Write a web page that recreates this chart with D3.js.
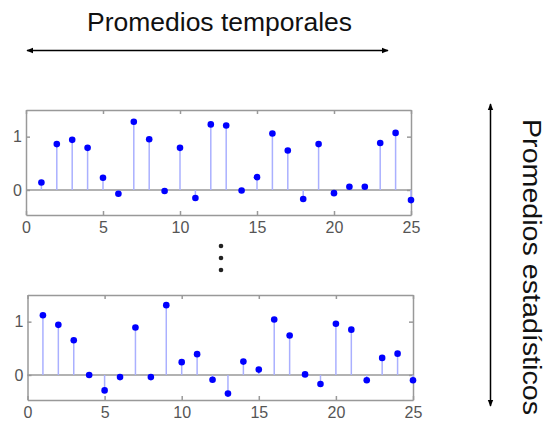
<!DOCTYPE html>
<html>
<head>
<meta charset="utf-8">
<script src="https://cdn.jsdelivr.net/npm/d3@7"></script>
<style>
  body { margin: 0; background: #fff; }
  svg { font-family: "Liberation Sans", Arial, sans-serif; }
  .axis path, .axis line { stroke: #999; stroke-width: 1.5; }
  .axis text { fill: #555; font-size: 16px; }
</style>
</head>
<body>
<script>
var w = 552, h = 422;

// sample index n = 1..25
var n = d3.range(1, 26);
// realization shown in the top panel
var seriesTop = [0.14, 0.86, 0.94, 0.79, 0.23, -0.07, 1.28, 0.95, -0.02, 0.79,
                 -0.15, 1.23, 1.21, -0.01, 0.24, 1.06, 0.74, -0.17, 0.86, -0.06,
                 0.06, 0.06, 0.88, 1.07, -0.19];
// realization shown in the bottom panel
var seriesBottom = [1.12, 0.94, 0.65, 0.0, -0.29, -0.04, 0.89, -0.04, 1.31, 0.24,
                    0.39, -0.09, -0.35, 0.25, 0.10, 1.04, 0.74, 0.01, -0.17, 0.96,
                    0.85, -0.10, 0.32, 0.40, -0.10];
var xTicks = [0, 5, 10, 15, 20, 25];
var yTicks = [0, 1];
var titleTop = "Promedios temporales";
var titleSide = "Promedios estadísticos";

var svg = d3.select("body").append("svg")
    .attr("width", w)
    .attr("height", h);

var defs = svg.append("defs");
defs.append("marker")
    .attr("id", "head")
    .attr("viewBox", "0 0 10 10")
    .attr("refX", 9).attr("refY", 5)
    .attr("markerWidth", 7).attr("markerHeight", 7)
    .attr("markerUnits", "userSpaceOnUse")
    .attr("orient", "auto-start-reverse")
  .append("path")
    .attr("d", "M0,1 L10,5 L0,9 Z")
    .attr("fill", "#000");

function stemPlot(values, left, right, top, bottom) {
  var x = d3.scaleLinear().domain([0, 25]).range([left, right]);
  var y = d3.scaleLinear().domain([-0.47, 1.5]).range([bottom, top]);
  var g = svg.append("g");

  // box with inward ticks
  g.append("g").attr("class", "axis")
    .attr("transform", "translate(0," + bottom + ")")
    .call(d3.axisBottom(x).tickValues(xTicks).tickSizeInner(-4).tickSizeOuter(0).tickPadding(7));
  g.append("g").attr("class", "axis")
    .attr("transform", "translate(0," + top + ")")
    .call(d3.axisTop(x).tickValues(xTicks).tickSizeInner(-4).tickSizeOuter(0).tickFormat(""));
  g.append("g").attr("class", "axis")
    .attr("transform", "translate(" + left + ",0)")
    .call(d3.axisLeft(y).tickValues(yTicks).tickSizeInner(-4).tickSizeOuter(0)
      .tickPadding(4).tickFormat(d3.format("d")));
  g.append("g").attr("class", "axis")
    .attr("transform", "translate(" + right + ",0)")
    .call(d3.axisRight(y).tickValues(yTicks).tickSizeInner(-4).tickSizeOuter(0).tickFormat(""));
  g.selectAll(".axis .domain").attr("stroke", "#999").attr("stroke-width", 2);

  // baseline
  g.append("line")
    .attr("x1", left).attr("x2", right)
    .attr("y1", y(0)).attr("y2", y(0))
    .attr("stroke", "#999").attr("stroke-width", 1.5);

  g.selectAll(".stem").data(values).enter().append("line")
    .attr("class", "stem")
    .attr("x1", function(d, i) { return x(n[i]); })
    .attr("x2", function(d, i) { return x(n[i]); })
    .attr("y1", y(0))
    .attr("y2", function(d) { return y(d); })
    .attr("stroke", "#aab0ff").attr("stroke-width", 1.5);

  g.selectAll(".pt").data(values).enter().append("circle")
    .attr("class", "pt")
    .attr("cx", function(d, i) { return x(n[i]); })
    .attr("cy", function(d) { return y(d); })
    .attr("r", 3.3)
    .attr("fill", "#0000ff");
}

stemPlot(seriesTop, 26, 411, 110, 215);
stemPlot(seriesBottom, 27.5, 413, 295, 400);

// vertical ellipsis
svg.selectAll(".dot").data([246, 258, 270]).enter().append("circle")
  .attr("cx", 221).attr("cy", function(d) { return d; })
  .attr("r", 2.3).attr("fill", "#222");

// time-average arrow
svg.append("text")
  .attr("x", 219.5).attr("y", 31)
  .attr("text-anchor", "middle")
  .attr("font-size", 25).attr("fill", "#111")
  .attr("textLength", 265).attr("lengthAdjust", "spacingAndGlyphs")
  .text(titleTop);
svg.append("line")
  .attr("x1", 27).attr("x2", 388).attr("y1", 50.5).attr("y2", 50.5)
  .attr("stroke", "#000").attr("stroke-width", 1.5)
  .attr("marker-start", "url(#head)").attr("marker-end", "url(#head)");

// ensemble-average arrow
svg.append("line")
  .attr("x1", 490.5).attr("x2", 490.5).attr("y1", 104).attr("y2", 406)
  .attr("stroke", "#000").attr("stroke-width", 1.5)
  .attr("marker-start", "url(#head)").attr("marker-end", "url(#head)");
svg.append("text")
  .attr("transform", "translate(523,267) rotate(90)")
  .attr("text-anchor", "middle")
  .attr("font-size", 25).attr("fill", "#111")
  .attr("textLength", 296).attr("lengthAdjust", "spacingAndGlyphs")
  .text(titleSide);
</script>
</body>
</html>
